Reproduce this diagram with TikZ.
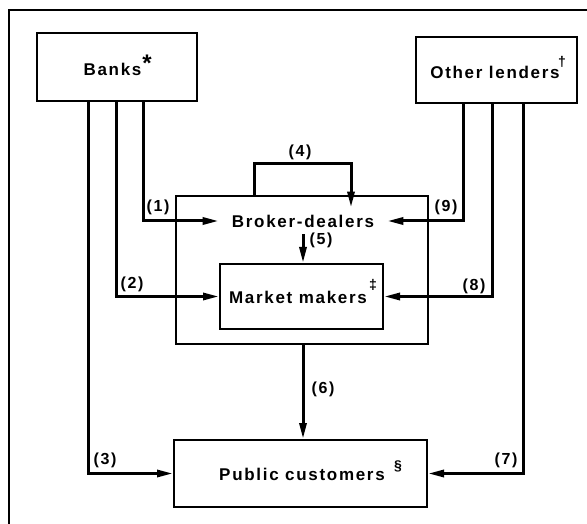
\documentclass[tikz,border=0pt]{standalone}
\usepackage{fontspec}
\setmainfont{Liberation Sans}[LetterSpace=10]
\usetikzlibrary{arrows.meta}
\tikzset{
  box/.style={draw, line width=2pt, inner sep=0pt},
  conn/.style={line width=3pt, -{Triangle[length=16pt,width=7pt]}},
  lbl/.style={font=\fontsize{16}{16}\selectfont\bfseries, inner sep=0pt},
  ttl/.style={font=\fontsize{17}{17}\selectfont\bfseries, inner sep=0pt},
  sup/.style={font=\fontsize{14}{14}\selectfont\bfseries, inner sep=0pt},
}
\begin{document}
\begin{tikzpicture}[x=1pt,y=-1pt]
\useasboundingbox (0,0) rectangle (587,524);
% outer frame (top and left edges)
\coordinate (ftl) at (9,10);
\coordinate (ftr) at (587,10);
\coordinate (fbl) at (9,524);
\draw[line width=1.2pt] (ftr) -- (ftl) -- (fbl);
% boxes
\node[box, minimum width=160pt, minimum height=68pt] (banks) at (117,67) {};
\node[ttl] at (112.5,69) {Banks};
\node[font=\fontsize{24}{24}\selectfont\bfseries, inner sep=0pt] at (147,63) {*};
\node[box, minimum width=161pt, minimum height=66pt] (other) at (496.5,70) {};
\node[ttl] at (495,72) {Other lenders};
\node[sup] at (562,62) {\dag};
\node[box, minimum width=252pt, minimum height=148pt] (outer) at (302,270) {};
\node[ttl, inner xsep=13pt, inner ysep=7pt] (bd) at (303,221) {Broker-dealers};
\node[box, minimum width=163pt, minimum height=65pt] (market) at (301.5,296.5) {};
\node[ttl] at (298,297) {Market makers};
\node[sup] at (373,285) {\ddag};
\node[box, minimum width=253pt, minimum height=67pt] (public) at (300.5,473.5) {};
\node[ttl] at (302,474) {Public customers};
\node[sup] at (398,466) {\S};
% connector x positions
\coordinate (b1) at (143,0);
\coordinate (b2) at (116,0);
\coordinate (b3) at (88,0);
\coordinate (o9) at (463,0);
\coordinate (o8) at (492,0);
\coordinate (o7) at (523,0);
\coordinate (l4) at (254,164);
\coordinate (r4) at (351,164);
\coordinate (c6) at (303,0);
% connectors
\draw[conn] (banks.south -| b1) |- (bd.west);
\draw[conn] (banks.south -| b2) |- (market.west);
\draw[conn] (banks.south -| b3) |- (public.west);
\draw[conn] (other.south -| o9) |- (bd.east);
\draw[conn] (other.south -| o8) |- (market.east);
\draw[conn] (other.south -| o7) |- (public.east);
\draw[conn] (outer.north -| l4) |- (r4) -- (bd.north -| r4);
\draw[conn] (bd.south -| c6) -- (market.north -| c6);
\draw[conn] (outer.south -| c6) -- (public.north -| c6);
% labels
\node[lbl] at (158,207) {(1)};
\node[lbl] at (132,284) {(2)};
\node[lbl] at (105,460) {(3)};
\node[lbl] at (300,152) {(4)};
\node[lbl] at (321,240) {(5)};
\node[lbl] at (323,389) {(6)};
\node[lbl] at (506,460) {(7)};
\node[lbl] at (474,286) {(8)};
\node[lbl] at (446,207) {(9)};
\end{tikzpicture}
\end{document}
